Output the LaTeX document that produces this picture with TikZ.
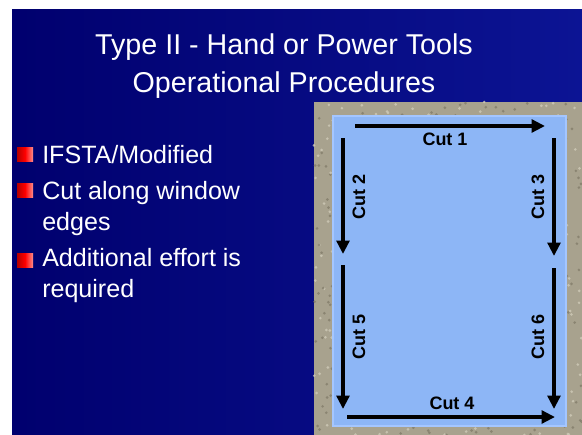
\documentclass[tikz,border=0pt]{standalone}
\usepackage{fontspec}
\setmainfont{Liberation Sans}
\usetikzlibrary{arrows.meta,positioning}

\definecolor{slidenavy}{HTML}{00006E}
\definecolor{slidemid}{HTML}{1C2E9C}
\definecolor{slideright}{HTML}{0C1494}
\definecolor{stone}{HTML}{A8A28E}
\definecolor{stonedark}{HTML}{7E7866}
\definecolor{stonelight}{HTML}{CFCAB8}
\definecolor{winblue}{HTML}{8DB6F6}
\definecolor{winedge}{HTML}{A4C6FF}

\tikzset{
  title/.style={text=white,anchor=base,inner sep=0pt,font=\fontsize{21.5}{26}\selectfont},
  item/.style={text=white,anchor=base west,inner sep=0pt,align=left,
    font=\fontsize{18.8}{23}\selectfont},
  bullet/.style={rectangle,minimum width=12pt,minimum height=10.5pt,inner sep=0pt,
    left color=red!70!black,right color=red!45!white,middle color=red},
  cut/.style={line width=2.5pt,-{Triangle[length=10pt,width=9.5pt]}},
  cutlabel/.style={inner sep=0pt,font=\bfseries\fontsize{13.5}{15}\selectfont}
}

\begin{document}
\begin{tikzpicture}[x=0.75pt,y=-0.75pt]
      % Frame
      \useasboundingbox (0,0) rectangle (582,435);
      \fill[white] (0,0) rectangle (582,435);
      \shade[left color=slidenavy,middle color=slidemid,right color=slideright]
        (12,10) rectangle (582,435);

      % Title
      \node[title] (titleA) at (284,55) {Type II - Hand or Power Tools};
      \node[title] (titleB) at (284,93) {Operational Procedures};

      % Bullet list (base = last line)
      \node[bullet] (dotA) at (25,154) {};
      \node[bullet] (dotB) at (25,190) {};
      \node[bullet] (dotC) at (25,260) {};
      \node[item] (itemA) at (42,163) {IFSTA/Modified};
      \node[item] (itemB) at (42,230) {Cut along window\\edges};
      \node[item] (itemC) at (42,297) {Additional effort is\\required};

      % Window in the wall
      \fill[stone] (314,102) rectangle (582,435);
      \pgfmathsetseed{7}
      \foreach \k in {1,...,900}{
        \pgfmathsetmacro{\px}{314+268*rnd}
        \pgfmathsetmacro{\py}{102+333*rnd}
        \ifodd\k
          \fill[stonedark,opacity=0.7] (\px,\py) circle (1.1pt);
        \else
          \fill[stonelight,opacity=0.8] (\px,\py) circle (1.1pt);
        \fi
      }
      \fill[winblue,draw=winedge,line width=2pt] (333,116) rectangle (566,426);

      % Arrow ends
      \coordinate (oneS) at (355,126);  \coordinate (oneE) at (545,126);
      \coordinate (twoS) at (343,138);  \coordinate (twoE) at (343,254);
      \coordinate (threeS) at (554,138);\coordinate (threeE) at (554,256);
      \coordinate (fiveS) at (343,265); \coordinate (fiveE) at (343,409);
      \coordinate (sixS) at (554,268);  \coordinate (sixE) at (554,409);
      \coordinate (fourS) at (347,417); \coordinate (fourE) at (555,417);

      % Cuts
      \draw[cut] (oneS) -- (oneE);
      \draw[cut] (twoS) -- (twoE);
      \draw[cut] (threeS) -- (threeE);
      \draw[cut] (fiveS) -- (fiveE);
      \draw[cut] (sixS) -- (sixE);
      \draw[cut] (fourS) -- (fourE);

      \node[cutlabel] (cutA) at (445,139) {Cut 1};
      \node[cutlabel,rotate=90] (cutB) at (359,197) {Cut 2};
      \node[cutlabel,rotate=90] (cutC) at (538,197) {Cut 3};
      \node[cutlabel] (cutD) at (452,403) {Cut 4};
      \node[cutlabel,rotate=90] (cutE) at (359,337) {Cut 5};
      \node[cutlabel,rotate=90] (cutF) at (538,337) {Cut 6};
\end{tikzpicture}
\end{document}
